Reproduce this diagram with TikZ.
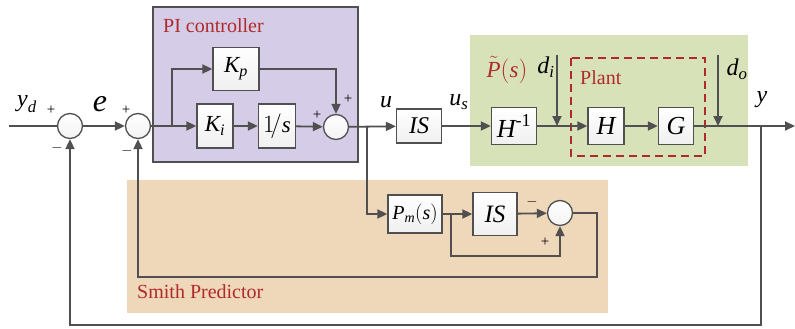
\documentclass[tikz,border=0pt]{standalone}
\usepackage{amsmath}
\usepackage{fontspec}
\setmainfont{Liberation Serif}
\usetikzlibrary{arrows.meta,calc}
\definecolor{ln}{HTML}{505050}
\definecolor{lav}{HTML}{D5CCE8}
\definecolor{grn}{HTML}{D8E2B8}
\definecolor{tan}{HTML}{EFD8B9}
\definecolor{rd}{HTML}{B02A2A}
\newcommand{\mi}[1]{\textit{#1}}
\tikzset{
  wire/.style={draw=ln, line width=1.8pt},
  arr/.style={wire, -{Triangle[length=10pt,width=9pt]}},
  blk/.style={draw=ln, line width=1.3pt, top color=white, bottom color=gray!12, inner sep=0pt, font=\fontsize{23}{25}\selectfont},
  sumc/.style={circle, draw=ln, line width=1.3pt, top color=white, bottom color=gray!10, minimum size=25pt, inner sep=0pt},
  sgn/.style={inner sep=0pt, font=\fontsize{15}{16}\selectfont},
  lbl/.style={inner sep=0pt, font=\fontsize{24}{26}\selectfont},
  reg/.style={line width=1.3pt},
  rtxt/.style={inner sep=0pt, text=rd, font=\fontsize{20}{22}\selectfont}
}
\begin{document}
\begin{tikzpicture}[x=1pt,y=-1pt]
\useasboundingbox (0,0) rectangle (795,329);
% regions
\filldraw[reg, fill=lav, draw=ln] (153,7) rectangle (358,162);
\fill[grn] (470,35) rectangle (748,166);
\fill[tan] (127,180) rectangle (608,313);
\draw[rd, line width=2.2pt, dash pattern=on 8pt off 5pt] (571,58) rectangle (705,156);
\node[rtxt, anchor=west] (pitxt) at (163,26) {PI controller};
\node[rtxt, anchor=west] (smtxt) at (137,292) {Smith Predictor};
\node[rtxt, anchor=west] (plt) at (580,78) {Plant};
\node[inner sep=0pt, text=rd, font=\fontsize{23}{25}\selectfont] (ptl) at (507,70) {$\tilde{\mi{P}}(\mi{s})$};
% sums
\node[sumc] (s1) at (70,126) {};
\node[sumc] (s2) at (138,126) {};
\node[sumc] (s3) at (336,127) {};
\node[sumc] (s4) at (560,213) {};
% blocks
\node[blk, minimum width=46pt, minimum height=43pt] (kp) at (236,69) {$\mi{K}_{\mi{p}}$};
\node[blk, minimum width=36pt, minimum height=44pt] (ki) at (215,126) {$\mi{K}_{\mi{i}}$};
\node[blk, minimum width=37pt, minimum height=44pt] (integ) at (277,126) {$1\!/\mi{s}$};
\node[blk, minimum width=45pt, minimum height=34pt, font=\fontsize{24}{26}\selectfont] (is1) at (419,126) {$\mi{IS}$};
\node[blk, minimum width=45pt, minimum height=37pt, font=\fontsize{26}{28}\selectfont] (hinv) at (514,126) {$\mi{H}^{\text{-1}}$};
\node[blk, minimum width=36pt, minimum height=37pt, font=\fontsize{26}{28}\selectfont] (hb) at (606,126) {$\mi{H}$};
\node[blk, minimum width=35pt, minimum height=37pt, font=\fontsize{26}{28}\selectfont] (gb) at (676,126) {$\mi{G}$};
\node[blk, minimum width=54pt, minimum height=38pt, font=\fontsize{20}{22}\selectfont] (pm) at (415,214) {$\mi{P}_{\mi{m}}(\mi{s})$};
\node[blk, minimum width=44pt, minimum height=43pt, font=\fontsize{25}{27}\selectfont] (is2) at (495,214) {$\mi{IS}$};
% coordinates
\coordinate (in) at (9,126);
\coordinate (br1) at (172,126);
\coordinate (br2) at (367,126);
\coordinate (di0) at (557,55);
\coordinate (dij) at (557,126);
\coordinate (do0) at (718,55);
\coordinate (doj) at (718,126);
\coordinate (br3) at (761,126);
\coordinate (out) at (795,126);
\coordinate (br4) at (451,214);
% wires
\draw[wire] (in) -- (s1.west);
\draw[arr] (s1) -- (s2);
\draw[arr] (s2) -- (ki);
\draw[arr] (br1) |- (kp);
\draw[arr] (ki) -- (integ);
\draw[arr] (integ) -- (s3);
\draw[arr] (kp.east) -| (s3.north);
\draw[arr] (s3) -- (is1);
\draw[arr] (is1) -- (hinv);
\draw[arr] (hinv) -- (hb);
\draw[arr] (di0) -- (dij);
\draw[arr] (hb) -- (gb);
\draw[arr] (gb) -- (out);
\draw[arr] (do0) -- (doj);
\draw[arr] (br3) |- (70,325) -- (s1.south);
\draw[arr] (br2) |- (pm);
\draw[arr] (pm) -- (is2);
\draw[arr] (is2) -- (s4);
\draw[arr] (br4) |- (560,256) -- (s4.south);
\draw[arr] (s4.east) -| (597,277) -| (s2.south);
% labels
\node[lbl] (lyd) at (27,104) {$\mi{y}_{\mi{d}}$};
\node[lbl, font=\fontsize{32}{34}\selectfont] (le) at (100,104) {$\mi{e}$};
\node[lbl] (lu) at (386,102) {$\mi{u}$};
\node[lbl] (lus) at (459,102) {$\mi{u}_{\mi{s}}$};
\node[lbl] (ldi) at (546,67) {$\mi{d}_{\mi{i}}$};
\node[lbl] (ldo) at (737,69) {$\mi{d}_{\mi{o}}$};
\node[lbl] (ly) at (762,100) {$\mi{y}$};
\node[sgn] at (51,110) {+};
\node[sgn] at (57,148) {$-$};
\node[sgn] at (126,110) {+};
\node[sgn] at (127,151) {$-$};
\node[sgn] at (317,115) {+};
\node[sgn] at (348,99) {+};
\node[sgn] at (532,202) {$-$};
\node[sgn] at (545,242) {+};
\end{tikzpicture}
\end{document}
